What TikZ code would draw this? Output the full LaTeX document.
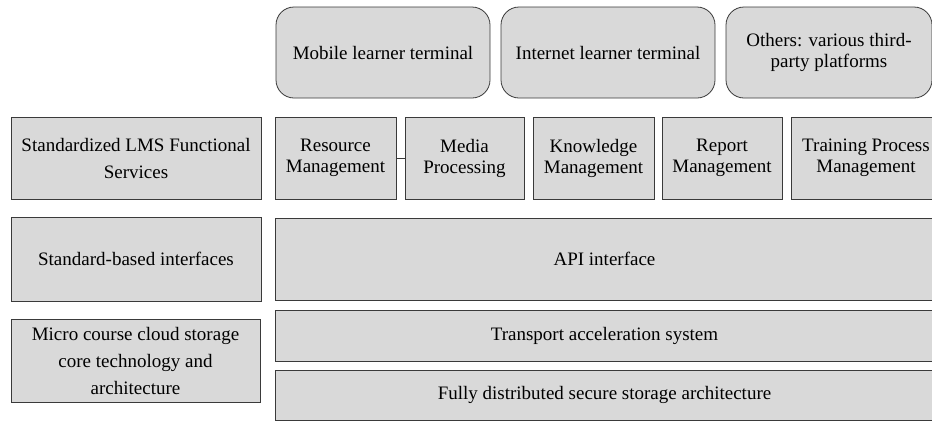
\documentclass[tikz,border=0pt]{standalone}
\usepackage{fontspec}
\setmainfont{Liberation Serif}
\definecolor{boxfill}{HTML}{D9D9D9}
\definecolor{boxline}{HTML}{3A3A3A}
\begin{document}
\begin{tikzpicture}[x=1pt,y=-1pt,
  box/.style={draw=boxline, fill=boxfill, line width=0.8pt, inner sep=0pt, align=center,
    font=\fontsize{19}{21}\selectfont},
  leftbox/.style={box, font=\fontsize{19}{27}\selectfont},
  roundbox/.style={box, rounded corners=18pt}]
\useasboundingbox (0,0) rectangle (932,421);
\clip (0,0) rectangle (932,421);
% top row
\node[roundbox, minimum width=214pt, minimum height=91pt] (mob) at (383,52.5) {Mobile learner terminal};
\node[roundbox, minimum width=214pt, minimum height=91pt] (int) at (608,52.5) {Internet learner terminal};
\node[roundbox, minimum width=206pt, minimum height=91pt] (oth) at (829,52.5) {Others: various third-\\party platforms};
% row 2
\node[leftbox, minimum width=250pt, minimum height=82pt] (lms) at (136,158) {Standardized LMS Functional\\Services};
\node[box, minimum width=121pt, minimum height=82pt] (res) at (335.5,158) {Resource\\Management};
\node[box, minimum width=119pt, minimum height=82pt] (med) at (464.5,158) {Media\\Processing};
\node[box, minimum width=121pt, minimum height=82pt] (kno) at (593.5,158) {Knowledge\\Management};
\node[box, minimum width=120pt, minimum height=82pt] (rep) at (722,158) {Report\\Management};
\node[box, minimum width=150pt, minimum height=82pt] (trp) at (866,158) {Training Process\\Management};
\draw[draw=boxline, line width=0.8pt] (res.east) -- (med.west);
% row 3
\node[leftbox, minimum width=250pt, minimum height=84pt] (std) at (136,259) {Standard-based interfaces};
\node[box, minimum width=659pt, minimum height=82pt] (api) at (604.5,259) {API interface};
% row 4
\node[leftbox, minimum width=249pt, minimum height=83pt] (mic) at (135.5,360.5) {Micro course cloud storage\\core technology and\\architecture};
\node[box, minimum width=659pt, minimum height=51pt] (tas) at (604.5,335.5) {Transport acceleration system};
\node[box, minimum width=659pt, minimum height=50pt] (fds) at (604.5,395) {Fully distributed secure storage architecture};
\end{tikzpicture}
\end{document}
